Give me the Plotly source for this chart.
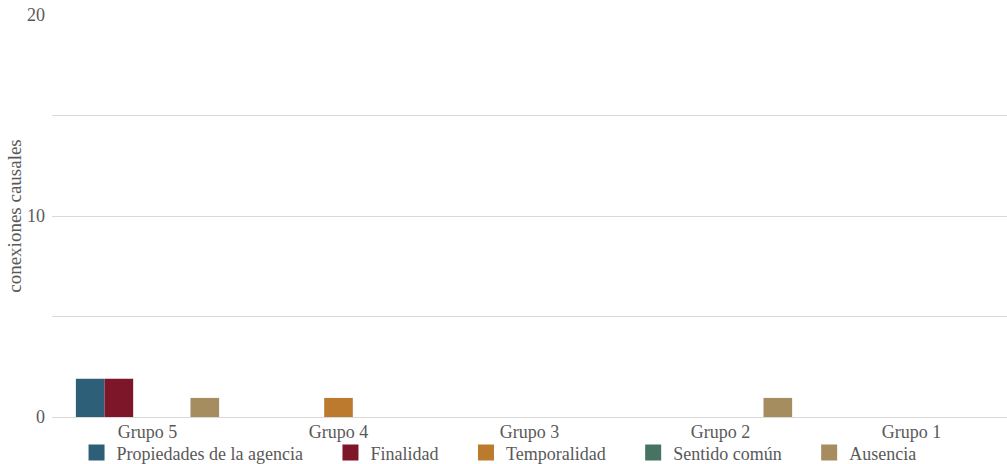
import plotly.graph_objects as go

categories = ["Grupo 5", "Grupo 4", "Grupo 3", "Grupo 2", "Grupo 1"]
series_names = ["Propiedades de la agencia", "Finalidad", "Temporalidad", "Sentido común", "Ausencia"]
propiedades = [1.9, 0, 0, 0, 0]
finalidad = [1.9, 0, 0, 0, 0]
temporalidad = [0, 0.95, 0, 0, 0]
sentido_comun = [0, 0, 0, 0, 0]
ausencia = [0.95, 0, 0, 0.95, 0]
colors = ["#2e5f78", "#7d1628", "#bb7a2e", "#467362", "#a58d60"]

values = [propiedades, finalidad, temporalidad, sentido_comun, ausencia]

fig = go.Figure()
for name, vals, col in zip(series_names, values, colors):
    fig.add_trace(go.Bar(x=categories, y=vals, name=name, showlegend=False,
                         marker=dict(color=col, line=dict(width=0))))
# legend entries with larger square swatches
pad = "\u00a0" * 5
for name, col in zip(series_names, colors):
    fig.add_trace(go.Scatter(x=[categories[0]], y=[None], mode="markers", name=name + pad,
                             marker=dict(symbol="square", size=16, color=col),
                             hoverinfo="skip"))

font_family = "Liberation Serif"
fig.update_layout(
    width=1007, height=464,
    margin=dict(l=52, r=0, t=15, b=47, autoexpand=False),
    paper_bgcolor="white", plot_bgcolor="white",
    barmode="group", bargap=0.25, bargroupgap=0,
    font=dict(family=font_family, color="#595959", size=18),
    showlegend=True,
    legend=dict(orientation="h", x=0.507, xanchor="center", xref="container",
                y=-0.043, yanchor="top", yref="paper", bgcolor="rgba(0,0,0,0)",
                font=dict(size=18, family=font_family, color="#595959"),
                itemwidth=30, traceorder="normal"),
    xaxis=dict(showgrid=False, showline=False, ticks="", tickfont=dict(size=18),
               ticklabelstandoff=2, automargin=False),
    yaxis=dict(range=[0, 20], dtick=10, showgrid=True, gridcolor="#d9d9d9", gridwidth=1,
               zeroline=True, zerolinecolor="#d9d9d9", zerolinewidth=1,
               minor=dict(dtick=5, showgrid=True, gridcolor="#d9d9d9", gridwidth=1),
               ticks="", tickfont=dict(size=18), ticklabelstandoff=6, automargin=False,
               title=dict(text="conexiones causales", font=dict(size=19), standoff=0)),
)

fig.write_html("out.html")
